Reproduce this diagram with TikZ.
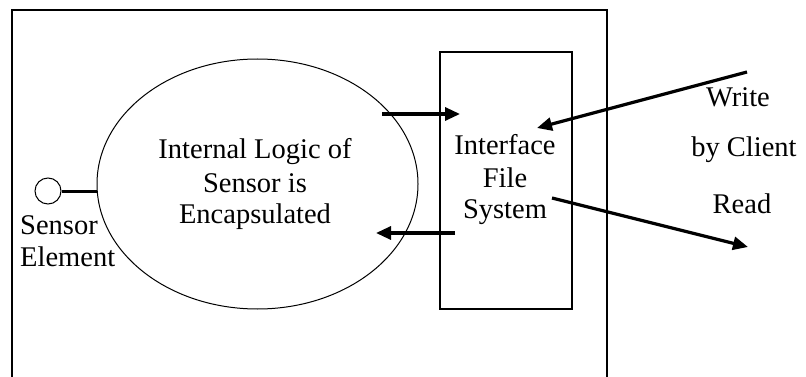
\documentclass[tikz,border=0pt]{standalone}
\usepackage{fontspec}
\setmainfont{Liberation Serif}
\usetikzlibrary{shapes.geometric,arrows.meta}
\begin{document}
\begin{tikzpicture}[x=1pt,y=-1pt,
  lbl/.style={font=\fontsize{28.5}{34}\selectfont, inner sep=0pt},
  flow/.style={line width=3.2pt, -{Triangle[length=15pt,width=13pt]}},
  frame/.style={line width=2pt},
]
\useasboundingbox (0,0) rectangle (806,377);
% outer frame (open at bottom)
\draw[frame] (12,378) -- (12,10) -- (607,10) -- (607,378);
% ellipse
\node[ellipse, draw, line width=1pt, minimum width=321pt, minimum height=250pt, inner sep=0pt] (ell) at (257.5,184) {};
\node[lbl, anchor=base] (t1) at (255,158) {Internal Logic of};
\node[lbl, anchor=base] (t2) at (255,192) {Sensor is};
\node[lbl, anchor=base] (t3) at (255,223) {Encapsulated};
% interface box
\node[draw, line width=1.2pt, minimum width=132pt, minimum height=257pt, inner sep=0pt] (box) at (506,180.5) {};
\node[lbl, anchor=base] (i1) at (505,154) {Interface};
\node[lbl, anchor=base] (i2) at (505,187) {File};
\node[lbl, anchor=base] (i3) at (505,218) {System};
% sensor element
\node[circle, draw, line width=1pt, minimum size=26pt, inner sep=0pt] (sc) at (48,191) {};
\draw[line width=3pt] (sc.east) -- (sc.east -| ell.west);
\node[lbl, anchor=base west] (s1) at (20,234) {Sensor};
\node[lbl, anchor=base west] (s2) at (20,266) {Element};
% client labels
\node[lbl, anchor=base] (w) at (738,107) {Write};
\node[lbl, anchor=base] (bc) at (744,157) {by Client};
\node[lbl, anchor=base] (r) at (742,213) {Read};
% arrows
\coordinate (a1s) at (382,114);
\coordinate (a1e) at (460,114);
\coordinate (a2s) at (455,233);
\coordinate (a2e) at (376,233);
\coordinate (ws) at (747,72);
\coordinate (we) at (537,128);
\coordinate (rs) at (552,198);
\coordinate (re) at (748,247);
\draw[flow] (a1s) -- (a1e);
\draw[flow] (a2s) -- (a2e);
\draw[flow] (ws) -- (we);
\draw[flow] (rs) -- (re);
\end{tikzpicture}
\end{document}
